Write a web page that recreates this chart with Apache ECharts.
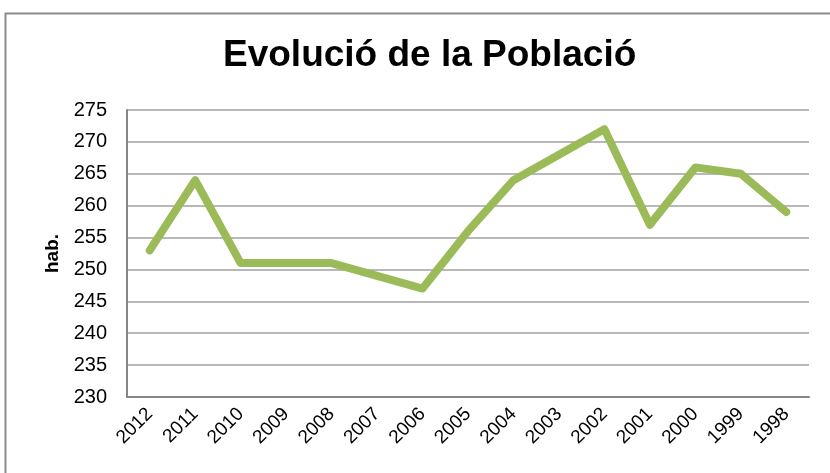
<!DOCTYPE html>
<html>
<head>
<meta charset="utf-8">
<script src="https://cdn.jsdelivr.net/npm/echarts@6/dist/echarts.min.js"></script>
<style>
  html, body { margin: 0; padding: 0; background: #fff; }
  #main { width: 830px; height: 473px; }
</style>
</head>
<body>
<div id="main"></div>
<script>
// anys (de més recent a més antic, com a l'original)
var years = ['2012', '2011', '2010', '2009', '2008', '2007', '2006', '2005',
             '2004', '2003', '2002', '2001', '2000', '1999', '1998'];
// habitants per any
var habitants = [253, 264, 251, 251, 251, 249, 247, 256,
                 264, 268, 272, 257, 266, 265, 259];
var yMin = 230, yMax = 275, yStep = 5;

var myChart = echarts.init(document.getElementById('main'));
myChart.setOption({
  animation: false,
  backgroundColor: '#ffffff',
  textStyle: { fontFamily: 'Liberation Sans, Arial, sans-serif' },
  graphic: [{
    type: 'rect',
    shape: { x: 5.5, y: 13.5, width: 900, height: 600 },
    style: { fill: 'none', stroke: '#8c8c8c', lineWidth: 2 },
    silent: true
  }],
  title: {
    text: 'Evolució de la Població',
    left: 218,
    top: 32,
    textStyle: { fontSize: 37, fontWeight: 'bold', color: '#000' }
  },
  grid: { left: 127, right: 21, top: 110, bottom: 76, containLabel: false },
  xAxis: {
    type: 'category',
    data: years,
    boundaryGap: true,
    axisLine: { lineStyle: { color: '#868686', width: 2 } },
    axisTick: { show: false },
    axisLabel: { rotate: 45, fontSize: 19, color: '#000', margin: 14, interval: 0 }
  },
  yAxis: {
    type: 'value',
    min: yMin, max: yMax, interval: yStep,
    name: 'hab.',
    nameLocation: 'middle',
    nameRotate: 90,
    nameGap: 64,
    nameTextStyle: { fontSize: 19, fontWeight: 'bold', color: '#000' },
    axisLine: { show: true, lineStyle: { color: '#868686', width: 2 } },
    axisTick: { show: false },
    axisLabel: { fontSize: 20, color: '#000', margin: 20 },
    splitLine: { lineStyle: { color: '#a0a0a0', width: 1.5 } }
  },
  series: [{
    name: 'hab.',
    type: 'line',
    data: habitants,
    symbol: 'none',
    lineStyle: { color: '#9bbb59', width: 8, cap: 'round', join: 'round' }
  }]
});
</script>
</body>
</html>
